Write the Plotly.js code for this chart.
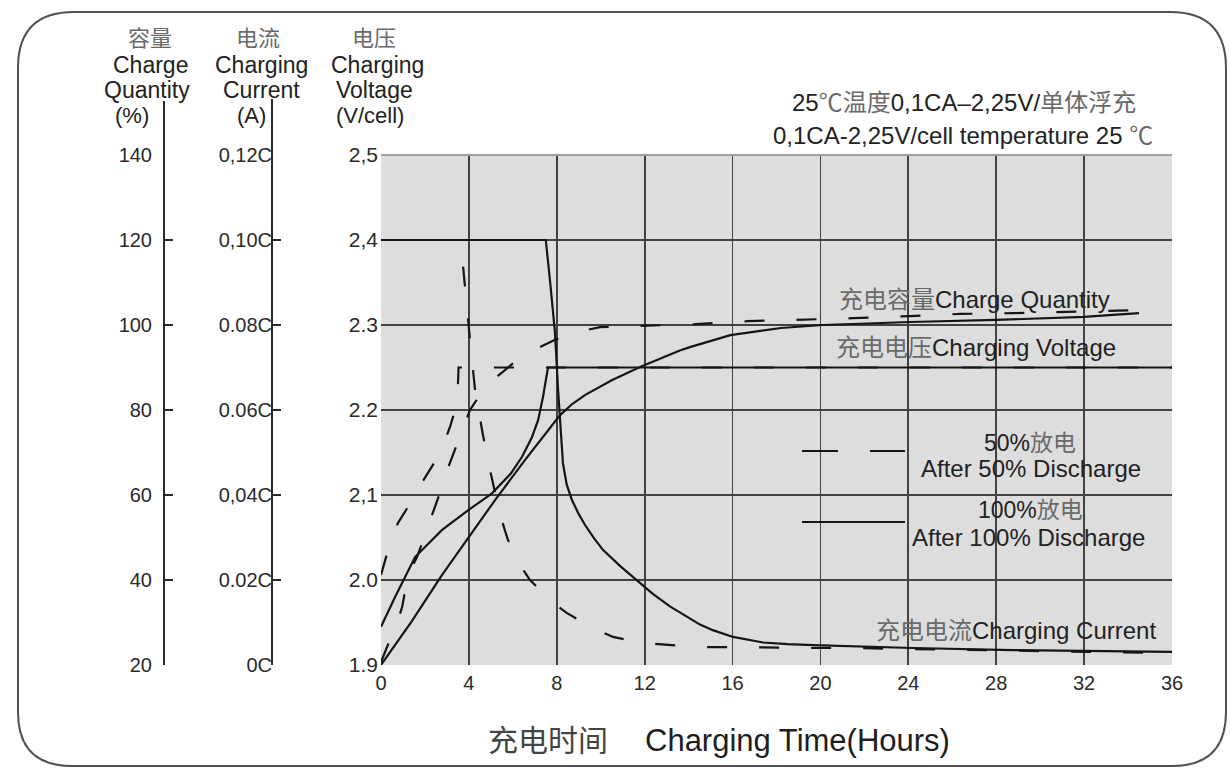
<!DOCTYPE html>
<html>
<head>
<meta charset="utf-8">
<script src="https://cdn.plot.ly/plotly-3.0.1.min.js"></script>
<style>html,body{margin:0;padding:0;background:#fff;}#chart{width:1230px;height:776px;}</style>
</head>
<body>
<div id="chart"></div>
<script>
// ---------- data ----------
// x axis ticks (hours)
const hourTicks = [0, 4, 8, 12, 16, 20, 24, 28, 32, 36];
// voltage axis
const voltTicks = [1.9, 2.0, 2.1, 2.2, 2.3, 2.4, 2.5];
const voltTickText = ['1.9', '2.0', '2,1', '2.2', '2.3', '2,4', '2,5'];
// charge quantity axis (%)
const qtyTicks = [20, 40, 60, 80, 100, 120, 140];
// charging current axis
const curTicks = [0, 0.02, 0.04, 0.06, 0.08, 0.10, 0.12];
const curTickText = ['0C', '0.02C', '0,04C', '0.06C', '0.08C', '0,10C', '0,12C'];

// After 100% discharge (solid)
const solidVoltHours = [0, 0.64, 1.55, 2.78, 3.96, 5.05, 5.9, 6.42, 6.87, 7.15, 7.37, 7.5, 7.6, 36];
const solidVolt      = [1.945, 1.98, 2.027, 2.059, 2.082, 2.102, 2.125, 2.145, 2.168, 2.188, 2.215, 2.235, 2.25, 2.25];

const solidQtyHours = [0, 1.39, 2.78, 3.96, 5.19, 6.55, 7.5, 8.15, 8.7, 9.28, 10.5, 11.79, 13.6, 14.06, 15.9, 18.2, 20.1, 24.1, 28, 32, 33.3, 34.5];
const solidQty      = [20, 30.2, 41.2, 49.9, 58.8, 68.2, 74.5, 78.8, 81.4, 83.5, 87.0, 90.1, 94.0, 94.8, 97.6, 99.3, 100.0, 100.7, 101.2, 101.9, 102.4, 102.8];

const solidCurHours = [0, 7.5, 7.7, 7.92, 8.06, 8.15, 8.28, 8.45, 8.69, 9.0, 9.28, 9.7, 10.1, 10.9, 11.65, 12.4, 13.15, 13.6, 14.52, 15.1, 16.02, 17.39, 18.5, 19.66, 24.2, 28.77, 36];
const solidCur      = [0.1, 0.1, 0.09, 0.0781, 0.0647, 0.058, 0.0475, 0.0425, 0.0388, 0.0355, 0.033, 0.0298, 0.0271, 0.0232, 0.02, 0.0166, 0.0138, 0.0124, 0.0095, 0.0082, 0.0066, 0.0053, 0.0049, 0.0047, 0.004, 0.0035, 0.0031];

// After 50% discharge (dashed)
const dashVoltHours = [0, 0.32, 0.77, 1.23, 1.87, 2.69, 3.14, 3.37, 3.5, 3.53, 36];
const dashVolt      = [2.006, 2.035, 2.067, 2.086, 2.115, 2.149, 2.18, 2.2, 2.229, 2.25, 2.25];

const dashQtyHours = [0, 0.77, 0.96, 1.23, 1.64, 2.14, 2.37, 2.78, 3.05, 3.5, 4.05, 4.5, 4.82, 5.64, 6.46, 7.92, 8.69, 9.97, 11.93, 14.29, 16.7, 19.07, 21.48, 24.08, 26.35, 28.77, 31.22, 34.32];
const dashQty      = [20.7, 30.6, 33.6, 41.2, 45.4, 52.5, 55.8, 61.9, 66.4, 72.5, 80.0, 83.5, 85.9, 89.4, 92.9, 96.5, 98.1, 99.5, 99.8, 100.2, 100.9, 101.2, 101.6, 102.1, 102.6, 102.8, 103.1, 103.5];

const dashCurHours = [0, 3.5, 3.73, 3.87, 4.05, 4.28, 4.64, 4.96, 5.42, 5.78, 6.33, 6.78, 7.78, 8.47, 9.65, 10.56, 11.93, 14.52, 16.8, 19.07, 21.35, 23.6, 30.7, 36];
const dashCur      = [0.1, 0.1, 0.0941, 0.0859, 0.0765, 0.0647, 0.0541, 0.0459, 0.0353, 0.0294, 0.0235, 0.02, 0.0148, 0.0122, 0.0087, 0.0066, 0.0052, 0.0042, 0.0042, 0.004, 0.004, 0.0038, 0.0033, 0.0028];

// ---------- layout helpers ----------
const W = 1230, H = 776;
const px = x => x / W;
const py = y => 1 - y / H;
const FONT = 'Liberation Sans, Arial, Noto Sans CJK SC, sans-serif';
const CJK = c => '<span style="color:#6a6a6a">' + c + '</span>';

const lineSolid = {color: '#151515', width: 2.2};
const lineDash = {color: '#151515', width: 2.2, dash: '20px,32px'};

const traces = [
  {x: solidVoltHours, y: solidVolt, yaxis: 'y', mode: 'lines', line: lineSolid, hoverinfo: 'skip'},
  {x: solidQtyHours, y: solidQty, yaxis: 'y2', mode: 'lines', line: lineSolid, hoverinfo: 'skip'},
  {x: solidCurHours, y: solidCur, yaxis: 'y3', mode: 'lines', line: lineSolid, hoverinfo: 'skip'},
  {x: dashVoltHours, y: dashVolt, yaxis: 'y', mode: 'lines', line: lineDash, hoverinfo: 'skip'},
  {x: dashQtyHours, y: dashQty, yaxis: 'y2', mode: 'lines', line: lineDash, hoverinfo: 'skip'},
  {x: dashCurHours, y: dashCur, yaxis: 'y3', mode: 'lines', line: lineDash, hoverinfo: 'skip'}
];

const yDomain = [py(665), py(155)];

function ann(text, x, y, size, opts) {
  return Object.assign({
    text: text, xref: 'paper', yref: 'paper', x: px(x), y: py(y),
    xanchor: 'center', yanchor: 'middle', showarrow: false,
    font: {family: FONT, size: size, color: '#222222'}
  }, opts || {});
}

const annotations = [
  // axis headers
  ann(CJK('容量'), 150, 38, 22),
  ann('Charge', 150, 65, 23),
  ann('Quantity', 147, 90, 23),
  ann('(%)', 132, 115, 22),
  ann(CJK('电流'), 258, 38, 22),
  ann('Charging', 261, 65, 23),
  ann('Current', 261, 90, 23),
  ann('(A)', 251, 115, 22),
  ann(CJK('电压'), 374, 38, 22),
  ann('Charging', 377, 65, 23),
  ann('Voltage', 374, 90, 23),
  ann('(V/cell)', 370, 115, 22),
  // condition text
  ann('25' + CJK('℃温度') + '0,1CA–2,25V/' + CJK('单体浮充'), 964, 103, 24),
  ann('0,1CA-2,25V/cell temperature 25 ' + CJK('℃'), 963, 135, 24),
  // curve labels
  ann(CJK('充电容量') + 'Charge Quantity', 974, 299, 24),
  ann(CJK('充电电压') + 'Charging Voltage', 976, 348, 24),
  ann('50%' + CJK('放电'), 1030, 443, 23),
  ann('After 50% Discharge', 1031, 468, 24),
  ann('100%' + CJK('放电'), 1030, 510, 23),
  ann('After 100% Discharge', 1028, 537, 24),
  ann(CJK('充电电流') + 'Charging Current', 1016, 630, 24),
  // x title
  ann('<span style="color:#444">充电时间</span>', 548, 740, 30),
  ann('Charging Time(Hours)', 797, 740, 31, {font: {family: FONT, size: 31, color: '#1e1e1e'}})
];

const frame = 'M ' + px(18) + ',' + py(68) +
  ' Q ' + px(18) + ',' + py(12) + ' ' + px(74) + ',' + py(12) +
  ' L ' + px(1170) + ',' + py(12) +
  ' Q ' + px(1226) + ',' + py(12) + ' ' + px(1226) + ',' + py(68) +
  ' L ' + px(1226) + ',' + py(712) +
  ' Q ' + px(1226) + ',' + py(766) + ' ' + px(1172) + ',' + py(766) +
  ' L ' + px(72) + ',' + py(766) +
  ' Q ' + px(18) + ',' + py(766) + ' ' + px(18) + ',' + py(712) + ' Z';

const shapes = [
  {type: 'path', xref: 'paper', yref: 'paper', path: frame, line: {color: '#505050', width: 2}, layer: 'below'},
  // lighter top border of the plot area
  {type: 'line', xref: 'paper', yref: 'paper', x0: px(381), x1: px(1172), y0: py(155), y1: py(155), line: {color: '#a0a0a0', width: 2}},
  // left axis lines (quantity, current)
  {type: 'line', xref: 'paper', yref: 'paper', x0: px(164), x1: px(164), y0: py(101), y1: py(665), line: {color: '#2a2a2a', width: 2}},
  {type: 'line', xref: 'paper', yref: 'paper', x0: px(272), x1: px(272), y0: py(99), y1: py(665), line: {color: '#2a2a2a', width: 2}},
  // legend samples
  {type: 'line', xref: 'paper', yref: 'paper', x0: px(802), x1: px(838), y0: py(451), y1: py(451), line: {color: '#151515', width: 2.2}},
  {type: 'line', xref: 'paper', yref: 'paper', x0: px(870), x1: px(905), y0: py(451), y1: py(451), line: {color: '#151515', width: 2.2}},
  {type: 'line', xref: 'paper', yref: 'paper', x0: px(802), x1: px(905), y0: py(522), y1: py(522), line: {color: '#151515', width: 2.2}}
];

const layout = {
  width: W, height: H,
  margin: {l: 0, r: 0, t: 0, b: 0},
  paper_bgcolor: '#ffffff',
  plot_bgcolor: '#dddddd',
  showlegend: false,
  font: {family: FONT, color: '#2a2a2a'},
  xaxis: {
    domain: [px(381), px(1172)],
    range: [0, 36],
    tickvals: hourTicks,
    showgrid: true, gridcolor: '#424242', gridwidth: 1.8,
    zeroline: false, showline: false,
    ticks: '', ticklabelstandoff: 4,
    tickfont: {family: FONT, size: 20, color: '#2a2a2a'}
  },
  yaxis: {
    domain: yDomain,
    range: [1.9, 2.5],
    tickvals: voltTicks, ticktext: voltTickText,
    showgrid: true, gridcolor: '#424242', gridwidth: 1.8,
    zeroline: false, showline: false,
    ticks: '', ticklabelstandoff: 2,
    tickfont: {family: FONT, size: 21, color: '#2a2a2a'}
  },
  yaxis2: {
    overlaying: 'y', anchor: 'free', position: px(164), side: 'left',
    domain: yDomain,
    range: [20, 140],
    tickvals: qtyTicks,
    showgrid: false, zeroline: false, showline: false,
    ticks: 'inside', ticklen: 8, tickwidth: 1.5, tickcolor: '#2a2a2a',
    ticklabelstandoff: 12,
    tickfont: {family: FONT, size: 20, color: '#2a2a2a'}
  },
  yaxis3: {
    overlaying: 'y', anchor: 'free', position: px(272), side: 'left',
    domain: yDomain,
    range: [0, 0.12],
    tickvals: curTicks, ticktext: curTickText,
    showgrid: false, zeroline: false, showline: false,
    ticks: 'inside', ticklen: 8, tickwidth: 1.5, tickcolor: '#2a2a2a',
    ticklabelstandoff: 0,
    tickfont: {family: FONT, size: 20, color: '#2a2a2a'}
  },
  annotations: annotations,
  shapes: shapes
};

Plotly.newPlot('chart', traces, layout, {staticPlot: true, displayModeBar: false});
</script>
</body>
</html>
